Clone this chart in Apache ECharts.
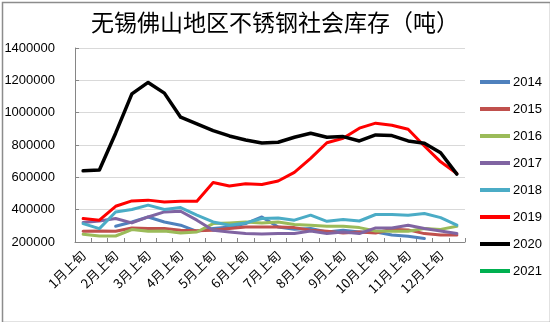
<!DOCTYPE html>
<html>
<head>
<meta charset="utf-8">
<script src="https://cdn.jsdelivr.net/npm/echarts@6/dist/echarts.min.js"></script>
<style>html,body{margin:0;padding:0;background:#fff;}#c{width:550px;height:322px;}</style>
</head>
<body>
<div id="c"></div>
<script>
const titleText = '无锡佛山地区不锈钢社会库存（吨）';
const categories = ['1月上旬','1月下旬','2月上旬','2月下旬','3月上旬','3月下旬','4月上旬','4月下旬','5月上旬','5月下旬','6月上旬','6月下旬','7月上旬','7月下旬','8月上旬','8月下旬','9月上旬','9月下旬','10月上旬','10月下旬','11月上旬','11月下旬','12月上旬','12月下旬'];
const yTicks = { min: 200000, max: 1400000, interval: 200000 };
const seriesNames = ['2014','2015','2016','2017','2018','2019','2020','2021'];
const s2014 = [null,null,297000,324000,355000,324000,304000,266000,283000,293000,314000,355000,293000,279000,283000,262000,273000,262000,262000,243000,235000,221000,null,null];
const s2015 = [266000,268000,266000,287000,283000,283000,273000,270000,272000,283000,293000,293000,293000,289000,273000,266000,256000,262000,256000,279000,275000,252000,243000,243000];
const s2016 = [248000,237000,237000,277000,266000,268000,256000,262000,314000,318000,324000,318000,324000,308000,304000,297000,297000,289000,268000,266000,266000,283000,278000,297000];
const s2017 = [320000,330000,345000,318000,355000,386000,390000,335000,273000,262000,252000,250000,252000,252000,268000,252000,262000,252000,287000,287000,304000,283000,268000,252000];
const s2018 = [314000,283000,386000,401000,428000,401000,413000,366000,324000,304000,318000,345000,349000,335000,366000,328000,339000,330000,370000,370000,366000,376000,351000,304000];
const s2019 = [345000,335000,421000,454000,459000,448000,452000,452000,568000,546000,560000,556000,577000,631000,717000,814000,842000,904000,935000,922000,897000,794000,696000,624000];
const s2020 = [640000,645000,873000,1116000,1187000,1121000,972000,930000,889000,856000,831000,812000,817000,848000,873000,848000,852000,825000,862000,858000,825000,811000,752000,620000];
const s2021 = [];
const seriesData = [s2014,s2015,s2016,s2017,s2018,s2019,s2020,s2021];
const colors = ['#4F81BD','#C0504D','#9BBB59','#8064A2','#4BACC6','#FF0000','#000000','#00B050'];
const widths = [3,3,3,3,3,3,3.5,3];

const chart = echarts.init(document.getElementById('c'), null, {renderer:'canvas'});
chart.setOption({
  animation: false,
  backgroundColor: '#fff',
  title: {
    text: titleText, left: 'center', top: 6,
    textStyle: { fontFamily: 'Noto Sans CJK SC', fontSize: 23, fontWeight: 'normal', color: '#000' }
  },
  graphic: [{ type: 'rect', left: 0, top: 0, shape: { x: 0.5, y: 0.5, width: 548, height: 320 }, style: { fill: 'none', stroke: '#8c8c8c', lineWidth: 1.5 }, silent: true }],
  legend: {
    orient: 'vertical', left: 475, top: 69,
    itemWidth: 30, itemHeight: 4, itemGap: 11, icon: 'rect',
    data: seriesNames,
    textStyle: { fontFamily: 'Liberation Sans', fontSize: 13, color: '#000', lineHeight: 16, padding: [0,0,0,-2] }
  },
  grid: { left: 75, right: 85, top: 48, bottom: 80, containLabel: false },
  xAxis: {
    type: 'category', data: categories, boundaryGap: true,
    axisLine: { lineStyle: { color: '#868686', width: 1 } },
    axisTick: { show: true, inside: true, length: 4, interval: 0, lineStyle: { color: '#868686' } },
    axisLabel: { interval: 1, rotate: 45, fontFamily: 'Noto Sans CJK SC', fontSize: 13, color: '#000', margin: 11 }
  },
  yAxis: {
    type: 'value', min: yTicks.min, max: yTicks.max, interval: yTicks.interval,
    axisLine: { show: true, lineStyle: { color: '#868686' } },
    axisTick: { show: true, inside: true, length: 4, lineStyle: { color: '#868686' } },
    splitLine: { lineStyle: { color: '#D9D9D9' } },
    axisLabel: { fontFamily: 'Liberation Sans', fontSize: 13, color: '#000', margin: 20, formatter: v => String(v) }
  },
  series: seriesNames.map((n, i) => ({
    name: n, type: 'line', data: seriesData[i], showSymbol: false, symbol: 'none',
    connectNulls: false, color: colors[i],
    lineStyle: { width: widths[i], color: colors[i], cap: 'round', join: 'round' }
  }))
});
</script>
</body>
</html>
